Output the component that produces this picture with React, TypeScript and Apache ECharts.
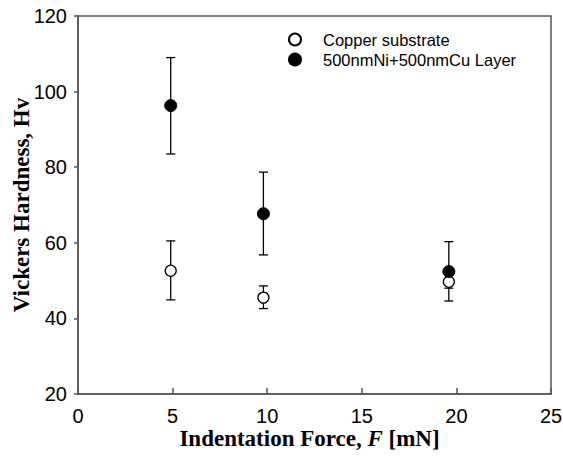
import React, { useEffect, useRef } from "react";
import * as echarts from "echarts";

const forces = [4.9, 9.8, 19.6];
const copperMean = [52.6, 45.5, 49.7];
const copperLow = [44.9, 42.6, 48.0];
const copperHigh = [60.5, 48.6, 51.5];
const layerMean = [96.3, 67.7, 52.4];
const layerLow = [83.5, 56.8, 44.6];
const layerHigh = [109.0, 78.7, 60.3];

const xTicks = [0, 5, 10, 15, 20, 25];
const yTicks = [20, 40, 60, 80, 100, 120];

const seriesNames = ["Copper substrate", "500nmNi+500nmCu Layer"];

function errorSeries(low: number[], high: number[]) {
  const data = forces.map((x, i) => [x, low[i], high[i]]);
  return {
    type: "custom",
    silent: true,
    z: 1,
    data,
    renderItem: (params: any, api: any) => {
      const x = api.value(0);
      const lo = api.coord([x, api.value(1)]);
      const hi = api.coord([x, api.value(2)]);
      const half = 4.5;
      const style = { stroke: "#000", lineWidth: 1.3 };
      return {
        type: "group",
        children: [
          { type: "line", shape: { x1: lo[0], y1: lo[1], x2: hi[0], y2: hi[1] }, style },
          { type: "line", shape: { x1: lo[0] - half, y1: lo[1], x2: lo[0] + half, y2: lo[1] }, style },
          { type: "line", shape: { x1: hi[0] - half, y1: hi[1], x2: hi[0] + half, y2: hi[1] }, style },
        ],
      };
    },
  };
}

export default function App() {
  const ref = useRef<HTMLDivElement>(null);
  useEffect(() => {
    if (!ref.current) return;
    const chart = echarts.init(ref.current, null, { renderer: "svg" });
    const axisColor = "#555";
    chart.setOption({
      animation: false,
      backgroundColor: "#fff",
      grid: {
        left: 78,
        right: 12,
        top: 16,
        bottom: 63,
        containLabel: false,
        outerBoundsMode: "none",
        show: true,
        borderColor: axisColor,
        borderWidth: 1.5,
        backgroundColor: "transparent",
      },
      legend: {
        orient: "vertical",
        left: 283,
        top: 26,
        itemGap: 3,
        itemWidth: 12,
        itemHeight: 12,
        data: seriesNames,
        textStyle: { fontFamily: "Liberation Sans, Arial", fontSize: 16.5, color: "#000", padding: [0, 0, 0, 17] },
      },
      xAxis: {
        type: "value",
        min: 0,
        max: 25,
        interval: 5,
        axisLine: { show: true, lineStyle: { color: axisColor, width: 1.5 } },
        axisTick: { show: true, inside: true, length: 6, lineStyle: { color: axisColor, width: 1.5 } },
        splitLine: { show: false },
        axisLabel: {
          margin: 12,
          fontFamily: "Liberation Sans, Arial",
          fontSize: 20,
          color: "#000",
          formatter: (v: number) => (xTicks.includes(v) ? String(v) : ""),
        },
        name: "{b|Indentation Force, }{i|F}{b| [mN]}",
        nameLocation: "middle",
        nameGap: 33,
        nameMoveOverlap: false,
        nameTextStyle: {
          padding: [0, 10, 0, 0],
          rich: {
            b: { fontFamily: "Liberation Serif, Times New Roman", fontWeight: "bold", fontSize: 23, color: "#000" },
            i: { fontFamily: "Liberation Serif, Times New Roman", fontWeight: "bold", fontStyle: "italic", fontSize: 23, color: "#000" },
          },
        },
      },
      yAxis: {
        type: "value",
        min: 20,
        max: 120,
        interval: 20,
        axisLine: { show: true, lineStyle: { color: axisColor, width: 1.5 } },
        axisTick: { show: true, inside: false, length: 4, lineStyle: { color: axisColor, width: 1.5 } },
        splitLine: { show: false },
        axisLabel: {
          margin: 11,
          fontFamily: "Liberation Sans, Arial",
          fontSize: 20,
          color: "#000",
          formatter: (v: number) => (yTicks.includes(v) ? String(v) : ""),
        },
        name: "Vickers Hardness, Hv",
        nameLocation: "middle",
        nameGap: 45,
        nameMoveOverlap: false,
        nameTextStyle: {
          fontFamily: "Liberation Serif, Times New Roman",
          fontWeight: "bold",
          fontSize: 23,
          color: "#000",
        },
      },
      series: [
        errorSeries(copperLow, copperHigh),
        errorSeries(layerLow, layerHigh),
        {
          name: seriesNames[0],
          type: "scatter",
          z: 3,
          symbol: "circle",
          symbolSize: 11,
          itemStyle: { color: "#fff", borderColor: "#000", borderWidth: 1.3, opacity: 1 },
          data: forces.map((x, i) => [x, copperMean[i]]),
        },
        {
          name: seriesNames[1],
          type: "scatter",
          z: 4,
          symbol: "circle",
          symbolSize: 12,
          itemStyle: { color: "#000", borderColor: "#000", borderWidth: 1, opacity: 1 },
          data: forces.map((x, i) => [x, layerMean[i]]),
        },
      ],
    });
    return () => chart.dispose();
  }, []);
  return (
    <div
      ref={ref}
      style={{ position: "absolute", left: 0, top: 0, width: 563, height: 457, background: "#fff" }}
    />
  );
}
